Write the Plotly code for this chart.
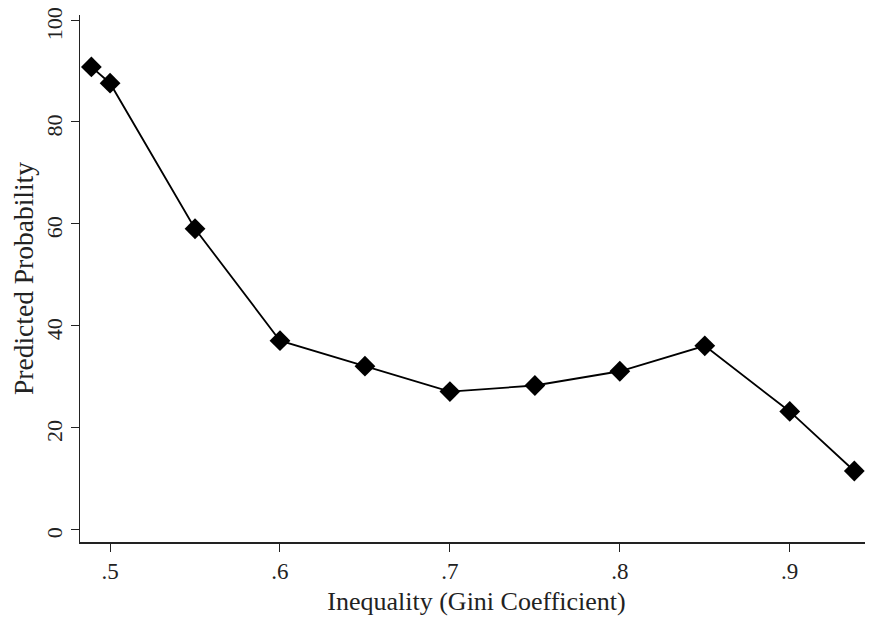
import plotly.graph_objects as go

gini = [0.489, 0.5, 0.55, 0.6, 0.65, 0.7, 0.75, 0.8, 0.85, 0.9, 0.938]
prob = [90.8, 87.6, 59.0, 37.0, 32.0, 27.0, 28.2, 31.0, 36.0, 23.1, 11.4]
xticks = [0.5, 0.6, 0.7, 0.8, 0.9]
xticklabels = [".5", ".6", ".7", ".8", ".9"]
yticks = [0, 20, 40, 60, 80, 100]

font = "Liberation Serif"
fig = go.Figure()
fig.add_trace(go.Scatter(
    x=gini, y=prob, mode="lines+markers",
    line=dict(color="black", width=1.8),
    marker=dict(symbol="diamond", size=16, color="black"),
    showlegend=False, cliponaxis=False,
))
fig.update_layout(
    width=873, height=624,
    margin=dict(l=72, r=8, t=7, b=90),
    paper_bgcolor="white", plot_bgcolor="white",
    font=dict(family=font, size=23, color="#222"),
    xaxis=dict(
        range=[0.4823, 0.949], tickvals=xticks, ticktext=xticklabels,
        showgrid=False, zeroline=False, showline=True, linecolor="#222", linewidth=1.5,
        ticks="outside", ticklen=8, tickcolor="#222", automargin=False,
        ticklabeloverflow="allow", tickfont=dict(size=23),
        title=dict(text="Inequality (Gini Coefficient)", font=dict(size=26), standoff=8),
    ),
    yaxis=dict(
        range=[-2.55, 101], tickvals=yticks,
        showgrid=False, zeroline=False, showline=True, linecolor="#222", linewidth=1.2,
        ticks="outside", ticklen=8, tickcolor="#222", tickangle=-90, automargin=False,
        ticklabeloverflow="allow", ticklabelstandoff=0, ticklabelshift=7,
        tickfont=dict(size=22),
        title=dict(text="Predicted Probability", font=dict(size=27.5), standoff=16),
    ),
)
fig.write_html("out.html")
